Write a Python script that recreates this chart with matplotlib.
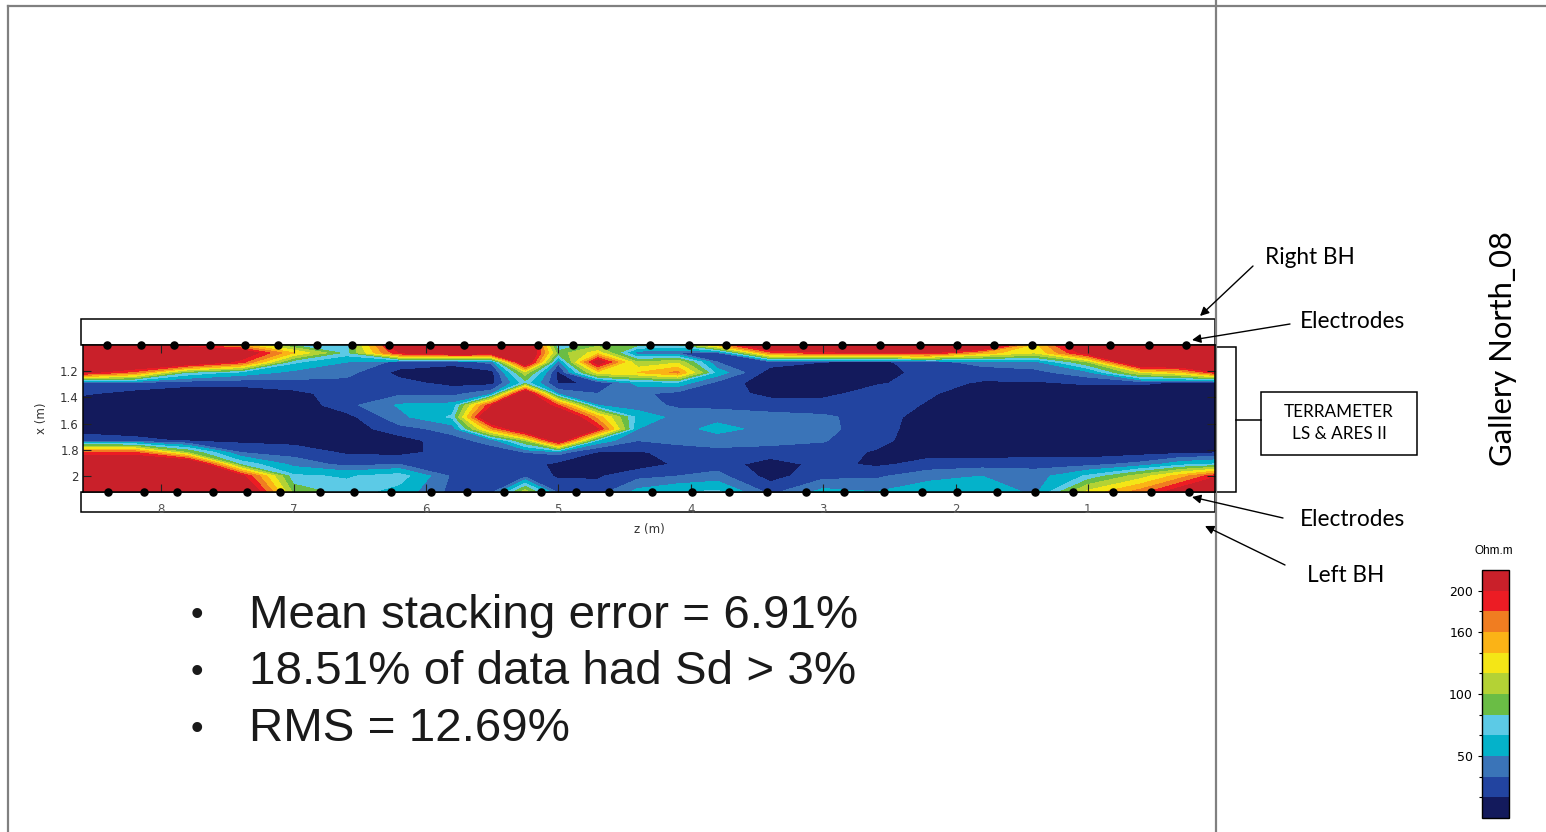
import numpy as np
import matplotlib
matplotlib.use("Agg")
import matplotlib.pyplot as plt
from matplotlib.patches import Rectangle

# ---------------- data ----------------
Z_NODES = [8.6, 8.2, 7.8, 7.4, 7.0, 6.6, 6.2, 5.8, 5.5, 5.25, 5.0, 4.7, 4.4,
           4.1, 3.8, 3.4, 3.0, 2.6, 2.2, 1.8, 1.4, 1.0, 0.6, 0.3, 0.0]
X_NODES = [1.00, 1.06, 1.13, 1.21, 1.29, 1.37, 1.46, 1.55, 1.64, 1.73, 1.82,
           1.91, 2.00, 2.12]
# resistivity (Ohm.m), one row per x node, columns follow Z_NODES
RHO = [
    [200, 190, 180, 150, 80, 75, 230, 260, 260, 260, 65, 95, 85, 80, 150, 260, 260, 260, 260, 260, 130, 260, 260, 260, 260],
    [260, 260, 260, 230, 140, 75, 200, 230, 220, 260, 90, 130, 40, 35, 30, 170, 190, 200, 200, 150, 120, 215, 260, 260, 260],
    [260, 260, 240, 190, 70, 50, 30, 25, 40, 240, 40, 220, 100, 115, 35, 28, 20, 15, 30, 40, 45, 100, 260, 260, 260],
    [210, 170, 80, 60, 45, 40, 15, 10, 15, 110, 15, 130, 140, 165, 60, 12, 10, 10, 28, 28, 30, 45, 120, 140, 200],
    [30, 30, 25, 25, 30, 30, 25, 15, 15, 75, 18, 22, 55, 60, 30, 10, 10, 18, 26, 18, 18, 22, 22, 18, 18],
    [22, 15, 10, 10, 15, 28, 32, 30, 45, 240, 45, 35, 38, 30, 28, 15, 15, 27, 22, 10, 10, 10, 10, 8, 8],
    [10, 8, 6, 6, 8, 30, 52, 55, 200, 260, 180, 50, 42, 32, 30, 28, 28, 29, 18, 8, 8, 8, 8, 8, 8],
    [8, 8, 6, 6, 8, 14, 45, 70, 260, 260, 260, 150, 60, 45, 45, 40, 37, 30, 10, 8, 8, 8, 8, 8, 8],
    [12, 10, 8, 8, 10, 10, 30, 40, 160, 240, 260, 200, 50, 44, 55, 45, 38, 29, 8, 8, 8, 8, 8, 8, 8],
    [30, 25, 18, 16, 15, 10, 12, 30, 40, 100, 220, 60, 35, 40, 42, 40, 36, 25, 10, 8, 8, 8, 8, 8, 8],
    [180, 180, 100, 35, 28, 18, 15, 26, 28, 35, 40, 18, 18, 25, 30, 28, 28, 18, 15, 12, 12, 12, 14, 16, 18],
    [260, 260, 260, 80, 45, 30, 35, 28, 26, 28, 15, 10, 12, 22, 28, 12, 25, 17, 25, 28, 30, 30, 40, 60, 70],
    [260, 260, 260, 210, 70, 65, 75, 32, 28, 30, 18, 18, 30, 35, 40, 14, 30, 32, 45, 50, 42, 70, 110, 150, 200],
    [260, 260, 260, 260, 95, 75, 60, 30, 30, 110, 30, 28, 55, 65, 70, 30, 55, 50, 60, 65, 45, 125, 170, 220, 260],
]
TOP_ELECTRODES_Z = [8.41, 8.15, 7.90, 7.63, 7.37, 7.12, 6.82, 6.56, 6.28, 5.97,
                    5.71, 5.43, 5.15, 4.89, 4.64, 4.31, 4.01, 3.73, 3.43, 3.15,
                    2.86, 2.57, 2.27, 1.99, 1.71, 1.42, 1.14, 0.83, 0.54, 0.26]
BOTTOM_ELECTRODES_Z = [8.40, 8.13, 7.88, 7.61, 7.35, 7.10, 6.80, 6.54, 6.26, 5.96,
                       5.69, 5.41, 5.13, 4.87, 4.62, 4.29, 3.99, 3.71, 3.42, 3.13,
                       2.84, 2.54, 2.25, 1.99, 1.69, 1.40, 1.11, 0.81, 0.52, 0.24]
LEVELS = [0, 20, 35, 50, 67, 83, 100, 120, 140, 160, 180, 200, 1000]
CB_TICKS = [50, 100, 160, 200]
Z_TICKS = [8, 7, 6, 5, 4, 3, 2, 1]
X_TICKS = [1.2, 1.4, 1.6, 1.8, 2.0]
X_TICK_LABELS = ["1.2", "1.4", "1.6", "1.8", "2"]
BULLETS = ["Mean stacking error = 6.91%",
           "18.51% of data had Sd > 3%",
           "RMS = 12.69%"]

COLORS = ["#131a5c", "#2244a0", "#3a74b8", "#04b2ca", "#5ccae6", "#6abd45",
          "#b4d235", "#f4e616", "#fbb316", "#f07d21", "#ec1c24", "#c9202a"]

# ---------------- figure ----------------
W, H = 1546, 832
fig = plt.figure(figsize=(W / 100, H / 100), dpi=100)
fig.patch.set_facecolor("white")


def box(x0, y0, x1, y1):
    return [x0 / W, 1 - y1 / H, (x1 - x0) / W, (y1 - y0) / H]


ov = fig.add_axes([0, 0, 1, 1])
ov.set_xlim(0, W)
ov.set_ylim(H, 0)
ov.axis("off")

# slide frame and divider
gray = "#808080"
ov.plot([8, W], [6, 6], color=gray, lw=1.6)
ov.plot([8, 8], [6, H], color=gray, lw=1.6)
ov.plot([1216, 1216], [0, H], color=gray, lw=1.6)

# borehole boxes
ov.add_patch(Rectangle((81, 319), 1134, 26, fill=False, ec="black", lw=1.1))
ov.add_patch(Rectangle((81, 492), 1134, 20, fill=False, ec="black", lw=1.1))
# bracket + instrument box
ov.add_patch(Rectangle((1215, 347), 21, 145, fill=False, ec="black", lw=1.1))
ov.plot([1236, 1261], [420, 420], color="black", lw=1.1)
ov.add_patch(Rectangle((1261, 392), 156, 63, fill=False, ec="black", lw=1.1))
ov.text(1339, 423, "TERRAMETER\nLS & ARES II", ha="center", va="center",
        fontsize=12.3, family="Lato", linespacing=1.5)

lab = dict(ha="center", va="center", fontsize=16.3, family="Lato")
ov.text(1310, 258, "Right BH", **lab)
ov.text(1352, 322, "Electrodes", **lab)
ov.text(1352, 520, "Electrodes", **lab)
ov.text(1346, 575, "Left BH", **lab)
ap = dict(arrowstyle="-|>", color="black", lw=1.0, mutation_scale=13,
          shrinkA=0, shrinkB=0)
ov.annotate("", xy=(1200, 316), xytext=(1253, 266), arrowprops=ap)
ov.annotate("", xy=(1192, 340), xytext=(1290, 324), arrowprops=ap)
ov.annotate("", xy=(1192, 497), xytext=(1283, 518), arrowprops=ap)
ov.annotate("", xy=(1205, 526), xytext=(1285, 565), arrowprops=ap)

ov.text(1503, 348, "Gallery North_08", rotation=90, ha="center", va="center",
        fontsize=22.3, family="Lato")

# bullets
for i, t in enumerate(BULLETS):
    y = 616 + i * 56.5
    ov.text(197, y, "\u2022", ha="center", va="center", fontsize=26,
            family="Liberation Sans", color="#1a1a1a")
    ov.text(249, y, t, ha="left", va="center", fontsize=34.2,
            family="Liberation Sans", color="#1a1a1a")

# ---------------- main section ----------------
ax = fig.add_axes(box(83, 345, 1215, 492))
cf = ax.contourf(Z_NODES, X_NODES, np.array(RHO), levels=LEVELS, colors=COLORS)
ax.set_xlim(8.59, 0.04)
ax.set_ylim(2.122, 1.0)
ax.set_xticks(Z_TICKS)
ax.set_xticklabels([str(t) for t in Z_TICKS])
ax.set_yticks(X_TICKS)
ax.set_yticklabels(X_TICK_LABELS)
ax.tick_params(axis="both", direction="in", top=True, right=True, length=6,
               width=0.8, color="#222222", labelsize=8.5)
ax.tick_params(axis="x", pad=8, labelcolor="#555555")
ax.tick_params(axis="y", pad=3, labelcolor="#333333")
for s in ax.spines.values():
    s.set_linewidth(1.1)
ax.set_xlabel("z (m)", fontsize=8.5, color="#333333", labelpad=5)
ax.set_ylabel("x (m)", fontsize=8.5, color="#333333", labelpad=9)

y_top, y_bot = ax.get_ylim()[1], ax.get_ylim()[0]
ax.scatter(TOP_ELECTRODES_Z, [y_top] * len(TOP_ELECTRODES_Z), s=26,
           color="black", clip_on=False, zorder=5)
ax.scatter(BOTTOM_ELECTRODES_Z, [y_bot] * len(BOTTOM_ELECTRODES_Z), s=26,
           color="black", clip_on=False, zorder=5)

# ---------------- colorbar ----------------
cax = fig.add_axes(box(1482, 570, 1509, 818))
cb = fig.colorbar(cf, cax=cax, ticks=CB_TICKS)
cb.ax.yaxis.set_ticks_position("left")
cb.ax.set_yticks(LEVELS[1:-1], minor=True)
cb.ax.tick_params(which="major", labelsize=9, length=3, width=0.8)
cb.ax.tick_params(which="minor", length=2, width=0.8, left=True, right=False)
cb.outline.set_linewidth(1.0)
ov.text(1494, 551, "Ohm.m", ha="center", va="center", fontsize=8.5,
        family="Liberation Sans")

fig.savefig("out.png", dpi=100)
